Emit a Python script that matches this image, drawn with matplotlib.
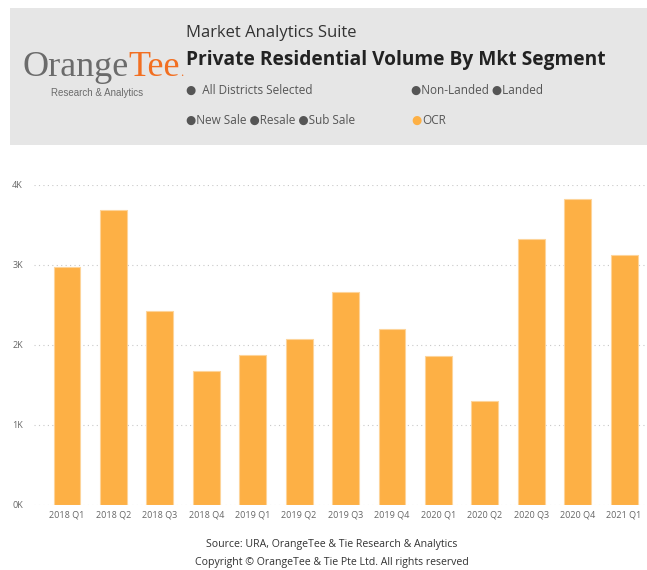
import matplotlib
matplotlib.use("Agg")
import matplotlib.pyplot as plt
from matplotlib.patches import Rectangle
from matplotlib.ticker import FuncFormatter

quarters = ["2018 Q1", "2018 Q2", "2018 Q3", "2018 Q4", "2019 Q1", "2019 Q2",
            "2019 Q3", "2019 Q4", "2020 Q1", "2020 Q2", "2020 Q3", "2020 Q4", "2021 Q1"]
volumes = [2970, 3690, 2420, 1680, 1870, 2080, 2665, 2195, 1860, 1295, 3320, 3830, 3120]
y_ticks = [0, 1000, 2000, 3000, 4000]

W, H = 647, 570
fig = plt.figure(figsize=(W / 100, H / 100), dpi=100)
fig.patch.set_facecolor("white")
FAM = ["Open Sans", "DejaVu Sans"]

def fx(px):
    return px / W

def fy(py):
    return 1 - py / H

# header box
fig.patches.append(Rectangle((fx(10), fy(145)), fx(637), (145 - 8) / H,
                             transform=fig.transFigure, facecolor="#e6e6e6",
                             edgecolor="none", zorder=0))

# logo
t1 = fig.text(fx(22), fy(76), "Orange", family="Liberation Serif", fontsize=26,
              color="#6b6b6b", ha="left", va="baseline")
fig.canvas.draw()
r = fig.canvas.get_renderer()
bb = t1.get_window_extent(r)
t2 = fig.text(bb.x1 / W, fy(76), "Tee", family="Liberation Serif", fontsize=26,
              color="#f26f21", ha="left", va="baseline")
bb2 = t2.get_window_extent(r)
fig.text(bb2.x1 / W, fy(76), ".", family="Liberation Serif", fontsize=9,
         color="#f26f21", ha="left", va="baseline")
fig.text(fx(97), fy(93), "Research & Analytics", family="Liberation Sans", fontsize=7,
         color="#6b6b6b", ha="center", va="center")

fig.text(fx(186), fy(33), "Market Analytics Suite", family=FAM, fontsize=12,
         color="#333333", ha="left", va="center")
fig.text(fx(186), fy(60), "Private Residential Volume By Mkt Segment", family=FAM,
         fontsize=13.8, fontweight="bold", color="#222222", ha="left", va="center")

lg = dict(family=FAM, fontsize=8.5, color="#555555", ha="left", va="center")
fig.text(fx(186), fy(90), "●  All Districts Selected", **lg)
fig.text(fx(411), fy(90), "●Non-Landed ●Landed", **lg)
fig.text(fx(186), fy(120), "●New Sale ●Resale ●Sub Sale", **lg)
dot = fig.text(fx(411), fy(120), "●", family=FAM, fontsize=8.5, color="#fdb045",
               ha="left", va="center")
fig.canvas.draw()
db = dot.get_window_extent(fig.canvas.get_renderer())
fig.text((db.x1 + 1) / W, fy(120), "OCR", **lg)

# chart
ax = fig.add_axes([fx(34), fy(505), fx(645) - fx(34), (505 - 185) / H])
x = list(range(len(quarters)))
ax.bar(x, volumes, width=0.58, color="#fdb045", edgecolor="#fdd49a", linewidth=0.8, zorder=3)
ax.set_xlim(-0.71, 12.45)
ax.set_ylim(0, 4000)
ax.set_yticks(y_ticks)
ax.yaxis.set_major_formatter(FuncFormatter(lambda v, p: f"{int(v/1000)}K"))
ax.set_xticks(x)
ax.set_xticklabels(quarters)
for s in ax.spines.values():
    s.set_visible(False)
ax.tick_params(axis="both", length=0, labelsize=6.5, labelcolor="#666666")
ax.tick_params(axis="y", pad=8)
ax.tick_params(axis="x", pad=4)
for lab in ax.get_xticklabels() + ax.get_yticklabels():
    lab.set_family("Open Sans")
ax.yaxis.grid(True, color="#c8c8c8", linestyle=(0, (1, 3)), linewidth=0.8, zorder=0)
ax.set_axisbelow(True)

fig.text(fx(332), fy(545), "Source: URA, OrangeTee & Tie Research & Analytics",
         family=FAM, fontsize=7.6, color="#333333", ha="center", va="center")
fig.text(fx(332), fy(562), "Copyright © OrangeTee & Tie Pte Ltd. All rights reserved",
         family=FAM, fontsize=7.6, color="#333333", ha="center", va="center")

fig.savefig("out.png", dpi=100)
